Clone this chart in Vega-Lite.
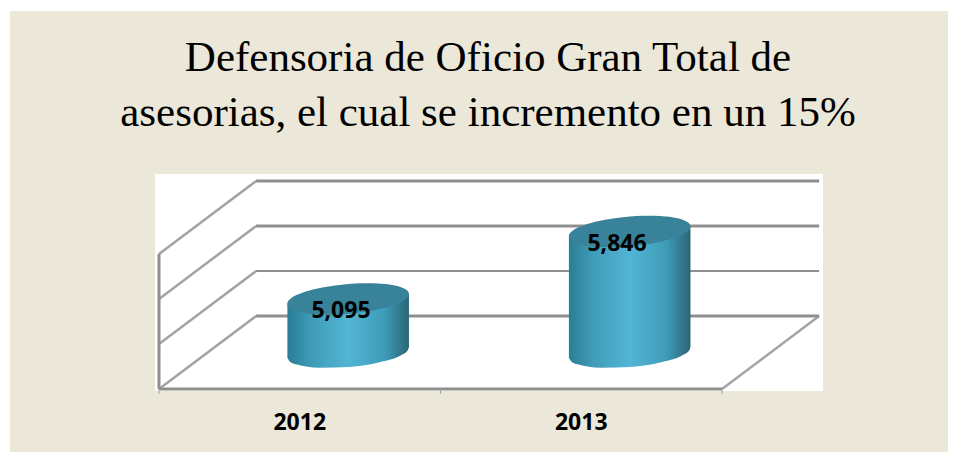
{
"$schema":"https://vega.github.io/schema/vega-lite/v6.json",
"width":938,"height":441,
"autosize":{"type":"none"},
"padding":{"left":10,"top":11,"right":8,"bottom":0},
"background":"#ffffff",
"view":{"fill":"#ebe7d9","stroke":null},
"title":{"text":["Defensoria de  Oficio Gran Total de","asesorias, el cual se incremento en un 15%"],"font":"Liberation Serif","fontSize":43,"fontWeight":"normal","color":"#000000","anchor":"middle","lineHeight":55,"baseline":"alphabetic","offset":0,"dx":9,"dy":158},
"datasets":{
"panel":[{"x":-0.0142,"x2":2.3588,"y":6889,"y2":4478}],
"grid":[
{"line":"g4500","x":0.345,"y":5311},{"line":"g4500","x":2.345,"y":5311},
{"line":"g5500","x":0.345,"y":6311},{"line":"g5500","x":2.345,"y":6311},
{"line":"g6000","x":0.345,"y":6811},{"line":"g6000","x":2.345,"y":6811}],
"gridThin":[{"line":"g5000","x":0.345,"y":5811},{"line":"g5000","x":2.345,"y":5811}],
"wall":[
{"line":"w4500","x":0,"y":4500},{"line":"w4500","x":0.345,"y":5311},
{"line":"w5000","x":0,"y":5000},{"line":"w5000","x":0.345,"y":5811},
{"line":"w5500","x":0,"y":5500},{"line":"w5500","x":0.345,"y":6311},
{"line":"w6000","x":0,"y":6000},{"line":"w6000","x":0.345,"y":6811},
{"line":"floor","x":2,"y":4500},{"line":"floor","x":2.345,"y":5311}],
"axisLines":[
{"line":"front","x":0,"y":4500},{"line":"front","x":2,"y":4500},
{"line":"left","x":0,"y":4500},{"line":"left","x":0,"y":6000}],
"ticks":[
{"line":"t0","x":0,"y":4500},{"line":"t0","x":0,"y":4445},
{"line":"t1","x":1,"y":4500},{"line":"t1","x":1,"y":4445},
{"line":"t2","x":2,"y":4500},{"line":"t2","x":2,"y":4445}],
"bodies":[
{"year":"2012","x":0.4561,"y":5441.4,"y2":4846.4},
{"year":"2012","x":0.4646,"y":5443.8,"y2":4806.8},
{"year":"2012","x":0.4873,"y":5449.9,"y2":4774.1},
{"year":"2012","x":0.568,"y":5472,"y2":4736.9},
{"year":"2012","x":0.6765,"y":5501.7,"y2":4745.1},
{"year":"2012","x":0.7838,"y":5531.1,"y2":4796.1},
{"year":"2012","x":0.8612,"y":5552.3,"y2":4876.5},
{"year":"2012","x":0.8817,"y":5557.9,"y2":4921.1},
{"year":"2012","x":0.8879,"y":5559.6,"y2":4964.6},
{"year":"2013","x":1.4561,"y":6192.4,"y2":4846.4},
{"year":"2013","x":1.4646,"y":6194.8,"y2":4806.8},
{"year":"2013","x":1.4873,"y":6200.9,"y2":4774.1},
{"year":"2013","x":1.568,"y":6223,"y2":4736.9},
{"year":"2013","x":1.6765,"y":6252.7,"y2":4745.1},
{"year":"2013","x":1.7838,"y":6282.1,"y2":4796.1},
{"year":"2013","x":1.8612,"y":6303.3,"y2":4876.5},
{"year":"2013","x":1.8817,"y":6308.9,"y2":4921.1},
{"year":"2013","x":1.8879,"y":6310.6,"y2":4964.6}],
"bars":[
{"year":"2012","value":5095,"x":0.672,"y":5500.5},
{"year":"2013","value":5846,"x":1.672,"y":6251.5}],
"labels":[{"value":5095,"x":0.6465,"y":5367},{"value":5846,"x":1.627,"y":6111}],
"years":[{"year":"2012","x":0.5,"y":4122},{"year":"2013","x":1.5,"y":4122}]
},
"encoding":{
"x":{"field":"x","type":"quantitative","scale":{"domain":[-0.5293,2.8028],"nice":false,"zero":false},"axis":null},
"y":{"field":"y","type":"quantitative","scale":{"domain":[3800,8700],"nice":false,"zero":false},"axis":null}
},
"layer":[
{"data":{"name":"panel"},"mark":{"type":"rect","fill":"#ffffff","stroke":null},"encoding":{"x2":{"field":"x2"},"y2":{"field":"y2"}}},
{"data":{"name":"wall"},"mark":{"type":"line","stroke":"#a3a3a3","strokeWidth":2.5},"encoding":{"detail":{"field":"line"}}},
{"data":{"name":"grid"},"mark":{"type":"line","stroke":"#8f8f8f","strokeWidth":3},"encoding":{"detail":{"field":"line"}}},
{"data":{"name":"gridThin"},"mark":{"type":"line","stroke":"#8f8f8f","strokeWidth":2},"encoding":{"detail":{"field":"line"}}},
{"data":{"name":"axisLines"},"mark":{"type":"line","stroke":"#8f8f8f","strokeWidth":3},"encoding":{"detail":{"field":"line"}}},
{"data":{"name":"ticks"},"mark":{"type":"line","stroke":"#a3a3a3","strokeWidth":1},"encoding":{"detail":{"field":"line"}}},
{"data":{"name":"bodies"},"mark":{"type":"area","interpolate":"monotone","fill":{"x1":0,"y1":0,"x2":1,"y2":0,"gradient":"linear","stops":[{"offset":0,"color":"#2a7d95"},{"offset":0.2,"color":"#3f9cb8"},{"offset":0.5,"color":"#52b5d4"},{"offset":0.8,"color":"#3f9cb8"},{"offset":1,"color":"#2a6575"}]}},"encoding":{"y2":{"field":"y2"},"detail":{"field":"year"}}},
{"data":{"name":"bars"},"mark":{"type":"point","filled":true,"opacity":1,"size":14884,"fill":"#38829a","shape":"M -0.996 0.087 A 1 0.238 -5 1 1 0.996 -0.087 A 1 0.238 -5 1 1 -0.996 0.087 Z"}},
{"data":{"name":"labels"},"mark":{"type":"text","font":"Open Sans","fontWeight":"bold","fontSize":23,"color":"#000000","align":"center","baseline":"middle"},"encoding":{"text":{"field":"value","type":"quantitative","format":","}}},
{"data":{"name":"years"},"mark":{"type":"text","font":"Open Sans","fontWeight":"bold","fontSize":23,"color":"#000000","align":"center","baseline":"middle"},"encoding":{"text":{"field":"year","type":"nominal"}}}
]
}
